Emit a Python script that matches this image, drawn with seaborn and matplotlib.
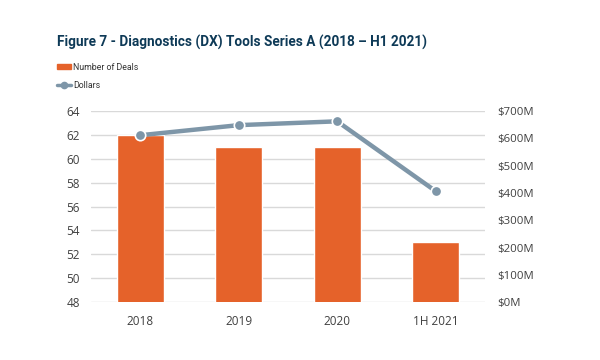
import pandas as pd
import matplotlib.pyplot as plt
import matplotlib.lines as mlines
import matplotlib.patches as mpatches
import seaborn as sns

periods = ['2018', '2019', '2020', '1H 2021']
deals = [62, 61, 61, 53]
dollars = [612, 649, 663, 407]  # $M

left_ticks = list(range(48, 65, 2))
right_ticks = list(range(0, 701, 100))

orange = '#E5622A'
slate = '#7E96A8'
navy = '#0E3A57'
text_c = '#404040'
tick_font = ['Open Sans', 'DejaVu Sans']

df = pd.DataFrame({'Period': periods, 'Deals': deals, 'Dollars': dollars})

sns.set_style('white')
plt.rcParams['font.family'] = tick_font

fig = plt.figure(figsize=(6, 3.6), dpi=100)
ax = fig.add_axes([0.152, 0.161, 0.656, 0.53])
ax2 = ax.twinx()

sns.barplot(data=df, x='Period', y='Deals', color=orange, width=0.48,
            saturation=1, ax=ax, zorder=2)
sns.lineplot(data=df, x='Period', y='Dollars', color=slate, linewidth=3.2,
             marker='o', markersize=7.5, markeredgecolor='white',
             markeredgewidth=1.2, ax=ax2, zorder=3, sort=False)

ax.set_xlim(-0.5, 3.5)
ax.set_xticks(range(len(periods)), periods, family=tick_font, size=8.5)
ax.set_ylim(48, 64)
ax.set_yticks(left_ticks, [str(v) for v in left_ticks], family=tick_font, size=8.5)
ax2.set_ylim(0, 700)
ax2.set_yticks(right_ticks, [f'${v}M' for v in right_ticks], family=tick_font, size=8.2)

ax.grid(axis='y', color='#d9d9d9', linewidth=1)
ax.set_axisbelow(True)
for a in (ax, ax2):
    for s in a.spines.values():
        s.set_visible(False)
    a.set_xlabel('')
    a.set_ylabel('')
    a.tick_params(axis='both', length=0, labelcolor=text_c)
ax.tick_params(axis='y', pad=8)
ax2.tick_params(axis='y', pad=9)
ax.tick_params(axis='x', pad=9)
ax2.set_zorder(ax.get_zorder() + 1)
ax2.patch.set_visible(False)

title = fig.text(0.095, 0.883, 'Figure 7 - Diagnostics (DX) Tools Series A (2018 \u2013 H1 2021)',
                 fontsize=13, fontweight='bold', color=navy, va='center',
                 family=['Roboto', 'DejaVu Sans'])
# fit the title to the width it has in the reference (~368 px)
r = fig.canvas.get_renderer()
wpx = title.get_window_extent(r).width
title.set_fontsize(13 * 368 / wpx)

bar_h = mpatches.Patch(color=orange, label='Number of Deals')
line_h = mlines.Line2D([], [], color=slate, linewidth=2.5, marker='o',
                       markersize=4.5, label='Dollars')
fig.legend(handles=[bar_h, line_h], loc='upper left', bbox_to_anchor=(0.095, 0.826),
           frameon=False, handlelength=1.55, handleheight=0.55, borderpad=0,
           borderaxespad=0, labelspacing=1.05, handletextpad=0.3,
           labelcolor='#333333', prop={'family': ['Roboto', 'DejaVu Sans'], 'size': 6.3})

fig.savefig('out.png', dpi=100)
